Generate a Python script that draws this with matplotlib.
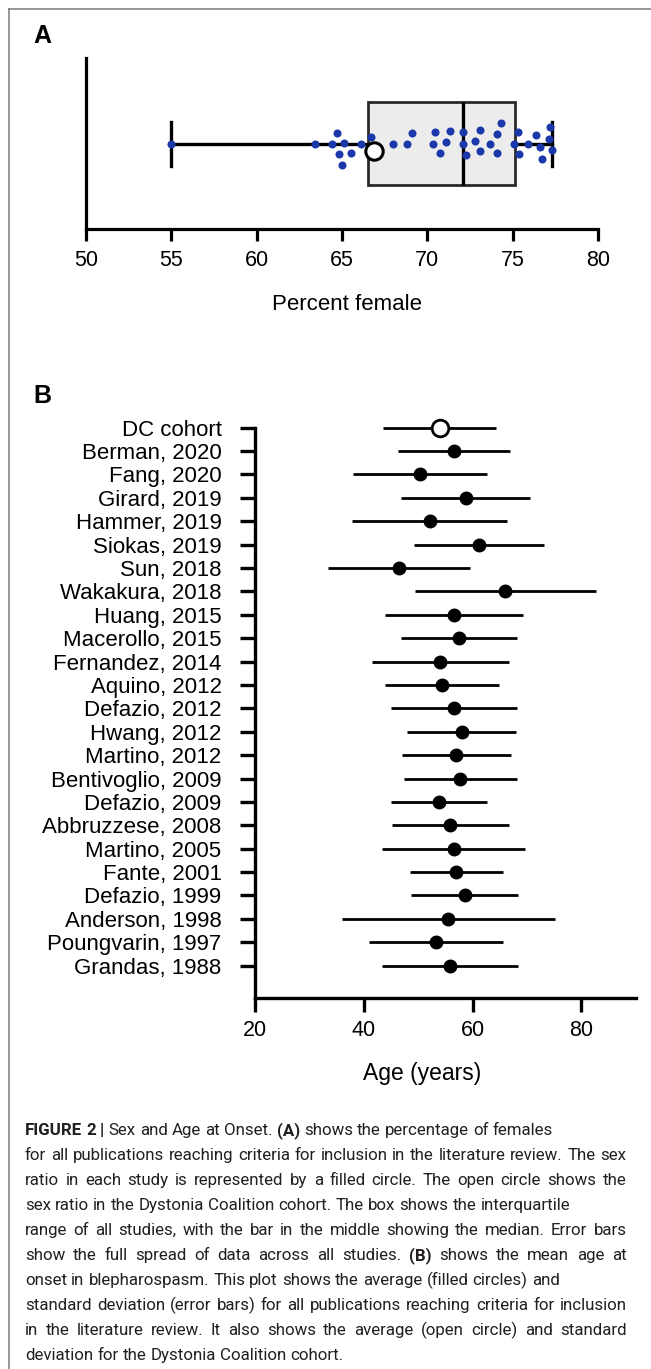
import matplotlib
matplotlib.use('Agg')
import matplotlib.pyplot as plt
import numpy as np
from matplotlib import font_manager
from matplotlib.lines import Line2D

W, H, DPI = 651, 1369, 100

# ---------------- data ----------------
# Panel A: percent female in each study
pct_female = [55.0, 63.4, 64.4, 64.7, 64.8, 65.0, 65.1, 65.5, 66.1, 66.7,
              68.0, 68.8, 69.1, 70.3, 70.45, 70.75, 71.06, 71.33, 72.08, 72.08,
              72.27, 72.76, 73.07, 73.07, 73.66, 74.07, 74.07, 74.29, 75.07, 75.29,
              75.38, 75.87, 76.38, 76.58, 76.68, 77.09, 77.19, 77.31]
dc_pct_female = 66.9
a_ticks = [50, 55, 60, 65, 70, 75, 80]

# Panel B: mean age at onset and SD
studies = ["DC cohort", "Berman, 2020", "Fang, 2020", "Girard, 2019", "Hammer, 2019",
           "Siokas, 2019", "Sun, 2018", "Wakakura, 2018", "Huang, 2015", "Macerollo, 2015",
           "Fernandez, 2014", "Aquino, 2012", "Defazio, 2012", "Hwang, 2012", "Martino, 2012",
           "Bentivoglio, 2009", "Defazio, 2009", "Abbruzzese, 2008", "Martino, 2005",
           "Fante, 2001", "Defazio, 1999", "Anderson, 1998", "Poungvarin, 1997", "Grandas, 1988"]
age_mean = [53.9, 56.6, 50.3, 58.7, 52.1, 61.2, 46.4, 66.0, 56.6, 57.5,
            54.0, 54.35, 56.6, 58.0, 57.0, 57.7, 53.8, 55.9, 56.5,
            57.0, 58.5, 55.5, 53.3, 55.8]
age_sd = [10.45, 10.3, 12.3, 11.8, 14.3, 12.0, 13.1, 16.7, 12.65, 10.65,
          12.6, 10.45, 11.55, 10.0, 10.0, 10.4, 8.85, 10.8, 13.2,
          8.6, 9.8, 19.6, 12.3, 12.55]
b_ticks = [20, 40, 60, 80]

caption_lines = [
    [("FIGURE 2 |", True), ("Sex and Age at Onset.", False), ("(A)", True),
     ("shows the percentage of females", False)],
    [("for all publications reaching criteria for inclusion in the literature review. The sex", False)],
    [("ratio in each study is represented by a filled circle. The open circle shows the", False)],
    [("sex ratio in the Dystonia Coalition cohort. The box shows the interquartile", False)],
    [("range of all studies, with the bar in the middle showing the median. Error bars", False)],
    [("show the full spread of data across all studies.", False), ("(B)", True),
     ("shows the mean age at", False)],
    [("onset in blepharospasm. This plot shows the average (filled circles) and", False)],
    [("standard deviation (error bars) for all publications reaching criteria for inclusion", False)],
    [("in the literature review. It also shows the average (open circle) and standard", False)],
    [("deviation for the Dystonia Coalition cohort.", False)],
]
caption_justify = [False, True, True, False, True, True, False, True, True, False]

# ---------------- style ----------------
plt.rcParams['font.family'] = ['Liberation Sans', 'DejaVu Sans']
fig = plt.figure(figsize=(W / DPI, H / DPI), dpi=DPI)
fig.patch.set_facecolor('white')

def fx(px):
    return px / W

def fy(py):
    return 1 - py / H

# frame lines (top and left)
fig.add_artist(Line2D([fx(9), fx(9)], [0, fy(8.5)], transform=fig.transFigure,
                      color='#7a7a7a', lw=1.1))
fig.add_artist(Line2D([fx(9), 1], [fy(8.5), fy(8.5)], transform=fig.transFigure,
                      color='#7a7a7a', lw=1.1))

# ---------------- Panel A ----------------
a_left, a_right, a_top, a_bot = 85.7, 598.3, 58.3, 229.0
axA = fig.add_axes([fx(a_left), fy(a_bot), (a_right - a_left) / W, (a_bot - a_top) / H])
A_XLIM = (50, 80)
A_YLIM = (-1, 1)
vals = np.array(pct_female)
q1, med, q3 = np.percentile(vals, [25, 50, 75], method='weibull')
stats = [dict(med=med, q1=q1, q3=q3, whislo=vals.min(), whishi=vals.max(), fliers=[])]
axA.bxp(stats, positions=[0], widths=0.976, capwidths=0.516, orientation='horizontal',
        showfliers=False, patch_artist=True,
        boxprops=dict(facecolor='#ececec', edgecolor='#2a2a2a', linewidth=2.0),
        medianprops=dict(color='black', linewidth=2.4),
        whiskerprops=dict(color='black', linewidth=2.4),
        capprops=dict(color='black', linewidth=2.4), zorder=2)

# beeswarm layout (computed in pixel space, collision-avoiding)
dot_ms, dc_ms = 5.8, 12.5      # marker diameters in points
dot_cr, dc_cr = 6.0, 8.0       # collision radii in pixels
xscale = (a_right - a_left) / (A_XLIM[1] - A_XLIM[0])
yscale = (a_bot - a_top) / (A_YLIM[1] - A_YLIM[0])
items = [(v, dot_cr, False) for v in pct_female] + [(dc_pct_female, dc_cr, True)]
items.sort(key=lambda t: t[0])
placed = []   # (xpx, ypx, r)
offsets = []
for v, r, is_dc in items:
    xp = (v - A_XLIM[0]) * xscale
    cands = [0.0]
    for (px_, py_, pr) in placed:
        d = r + pr
        dx = xp - px_
        if abs(dx) < d:
            dy = np.sqrt(d * d - dx * dx)
            cands += [py_ + dy, py_ - dy]
    cands.sort(key=lambda c: (abs(c), -c))
    chosen = 0.0
    for c in cands:
        ok = True
        for (px_, py_, pr) in placed:
            d = r + pr
            if (xp - px_) ** 2 + (c - py_) ** 2 < d * d - 1e-6:
                ok = False
                break
        if ok:
            chosen = c
            break
    placed.append((xp, chosen, r))
    offsets.append((v, chosen / yscale, is_dc))

dots_x = [o[0] for o in offsets if not o[2]]
dots_y = [o[1] for o in offsets if not o[2]]
dc_pos = [o for o in offsets if o[2]][0]
axA.scatter(dots_x, dots_y, s=dot_ms ** 2, color='#1b38aa', linewidths=0, zorder=3)
axA.plot([dc_pos[0]], [dc_pos[1]], 'o', mfc='white', mec='black', ms=dc_ms, mew=2.2,
         zorder=5, clip_on=False)
axA.set_ylim(*A_YLIM)
axA.set_xlim(*A_XLIM)
axA.set_xticks(a_ticks)
axA.set_xticklabels([str(t) for t in a_ticks])
axA.set_yticks([])
for s in ['top', 'right']:
    axA.spines[s].set_visible(False)
for s in ['left', 'bottom']:
    axA.spines[s].set_linewidth(2.3)
    axA.spines[s].set_color('black')
axA.tick_params(axis='x', length=8.4, width=2.3, pad=7, labelsize=15.5, colors='black')
axA.set_xlabel('Percent female', fontsize=16)
axA.xaxis.label.set_va('baseline')
axA.xaxis.set_label_coords(0.509, (a_bot - 310.5) / (a_bot - a_top))
axA.set_facecolor('none')

# ---------------- Panel B ----------------
axB = fig.add_axes([fx(255.3), fy(997.7), (635.7 - 255.3) / W, (997.7 - 427.7) / H])
n = len(studies)
ypos = np.arange(n)[::-1]
axB.errorbar(age_mean[1:], ypos[1:], xerr=age_sd[1:], fmt='o', color='black',
             ms=9, elinewidth=2.0, capsize=0, zorder=3, clip_on=False)
axB.errorbar(age_mean[:1], ypos[:1], xerr=age_sd[:1], fmt='o', color='black',
             mfc='white', mec='black', mew=2.0, ms=12, elinewidth=2.0, capsize=0,
             zorder=3, clip_on=False)
axB.set_xlim(20, 90)
axB.set_ylim(-1.37, ypos[0])
axB.set_xticks(b_ticks)
axB.set_xticklabels([str(t) for t in b_ticks])
axB.set_yticks(ypos)
axB.set_yticklabels(studies)
for s in ['top', 'right']:
    axB.spines[s].set_visible(False)
for s in ['left', 'bottom']:
    axB.spines[s].set_linewidth(2.4)
    axB.spines[s].set_color('black')
axB.tick_params(axis='x', length=10.3, width=2.4, pad=6, labelsize=15.5, colors='black')
axB.tick_params(axis='y', length=10.8, width=2.4, pad=13.5, labelsize=16, colors='black')
axB.set_xlabel('Age (years)', fontsize=16.5)
axB.xaxis.label.set_va('baseline')
axB.xaxis.set_label_coords(0.438, (997.7 - 1080) / (997.7 - 427.7))

# panel letters
fig.text(fx(33), fy(43), 'A', fontsize=18, weight='bold', va='baseline', ha='left')
fig.text(fx(33), fy(403), 'B', fontsize=18, weight='bold', va='baseline', ha='left')

# ---------------- Caption ----------------
names = {f.name for f in font_manager.fontManager.ttflist}
cap_font = 'Liberation Sans'
for c in ['Roboto', 'Liberation Sans']:
    if c in names:
        cap_font = c
        break
cap_family = [cap_font, 'DejaVu Sans']
renderer = fig.canvas.get_renderer()

def raw_width(s, fs, bold):
    t = fig.text(0, 0, s, fontsize=fs, family=cap_family,
                 weight='bold' if bold else 'normal')
    w = t.get_window_extent(renderer).width
    t.remove()
    return w

def adv(s, fs, bold):
    # advance width without bbox padding
    return raw_width('x' + s + 'x', fs, bold) - raw_width('xx', fs, bold)

def line_words(line):
    out = []
    for seg, bold in line:
        for w in seg.split(' '):
            if w:
                out.append((w, bold))
    return out

def natural_width(words, fs):
    sp = adv(' ', fs, False)
    return sum(adv(w, fs, b) for w, b in words) + sp * (len(words) - 1)

left_px, right_px = 25.0, 626.5
ref_fs = 10.0
w4 = natural_width(line_words(caption_lines[3]), ref_fs)
wj = max(natural_width(line_words(l), ref_fs)
         for l, j in zip(caption_lines, caption_justify) if j)
cap_fs = min(ref_fs * 558.0 / w4, ref_fs * 599.0 / wj)

space = adv(' ', cap_fs, False)
cap_px = cap_fs * DPI / 72.0
for i, (line, just) in enumerate(zip(caption_lines, caption_justify)):
    words = line_words(line)
    widths = [adv(w, cap_fs, b) for w, b in words]
    if just and len(words) > 1:
        g = ((right_px - left_px) - sum(widths)) / (len(words) - 1)
        g = max(g, 0.55 * space)
    else:
        g = space
    ycenter = 1129 + 25 * i
    ybase = ycenter + 0.36 * cap_px
    x = left_px
    for (w, b), wd in zip(words, widths):
        fig.text(fx(x), fy(ybase), w, fontsize=cap_fs, family=cap_family,
                 weight='bold' if b else 'normal', va='baseline', ha='left',
                 color='#231f20')
        x += wd + g

fig.savefig('out.png', dpi=DPI, facecolor='white')
